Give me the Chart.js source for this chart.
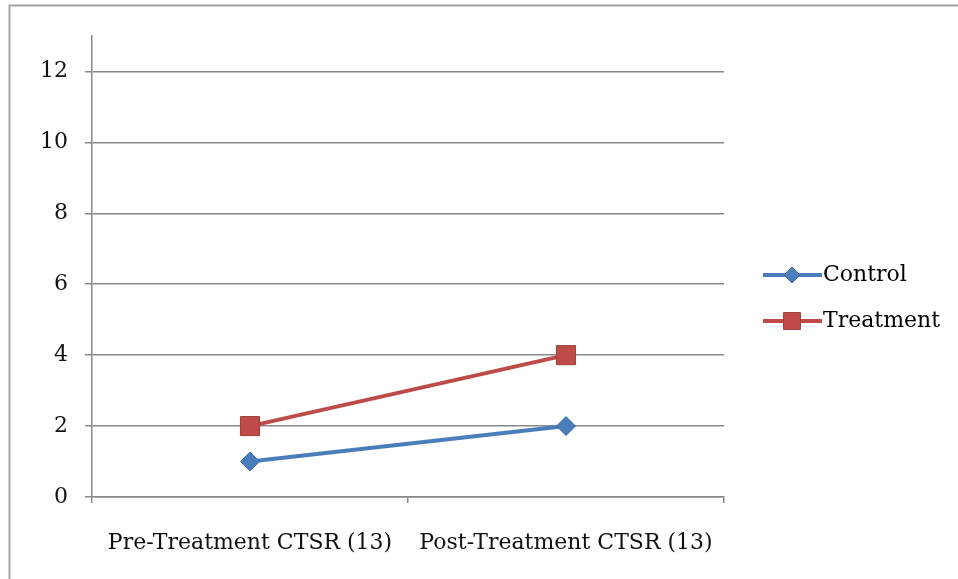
<!DOCTYPE html>
<html>
<head>
<meta charset="utf-8">
<script src="https://cdn.jsdelivr.net/npm/chart.js@4.4.1/dist/chart.umd.min.js"></script>
<style>
  html, body { margin: 0; padding: 0; background: #fff; }
  #wrap { position: relative; width: 958px; height: 579px; }
</style>
</head>
<body>
<div id="wrap"><canvas id="chart" width="958" height="579"></canvas></div>
<script>
const categories = ['Pre-Treatment CTSR (13)', 'Post-Treatment CTSR (13)'];
const controlValues = [1, 2];
const treatmentValues = [2, 4];
const yTicks = [0, 2, 4, 6, 8, 10, 12];

const FONT = "'DejaVu Serif', serif";

// outer frame of the original chart box
const framePlugin = {
    id: 'frame',
    beforeDraw(chart) {
        const ctx = chart.ctx;
        ctx.save();
        ctx.strokeStyle = '#a3a3a3';
        ctx.lineWidth = 2;
        ctx.beginPath();
        ctx.moveTo(9.5, chart.height + 5);
        ctx.lineTo(9.5, 5.5);
        ctx.lineTo(chart.width + 5, 5.5);
        ctx.stroke();
        ctx.restore();
    }
};

// legend with line + marker sample, like the spreadsheet one
const lineLegend = {
    id: 'lineLegend',
    afterDraw(chart) {
        const ctx = chart.ctx;
        const rows = [275, 321];
        ctx.save();
        chart.data.datasets.forEach((ds, i) => {
            const y = rows[i];
            ctx.strokeStyle = ds.borderColor;
            ctx.lineWidth = 4;
            ctx.beginPath();
            ctx.moveTo(763, y);
            ctx.lineTo(822, y);
            ctx.stroke();
            ctx.fillStyle = ds.pointBackgroundColor;
            ctx.strokeStyle = ds.pointBorderColor;
            ctx.lineWidth = 1;
            Chart.helpers.drawPoint(ctx, {
                pointStyle: ds.pointStyle,
                radius: ds.pointStyle === 'rect' ? 12 : 8,
                rotation: 0,
                borderWidth: 1
            }, 792, y);
            ctx.fillStyle = '#000';
            ctx.font = '22px ' + FONT;
            ctx.textBaseline = 'middle';
            ctx.textAlign = 'left';
            ctx.fillText(ds.label, 823, y);
        });
        ctx.restore();
    }
};

new Chart(document.getElementById('chart'), {
    type: 'line',
    data: {
        labels: categories,
        datasets: [
            {
                label: 'Control',
                data: controlValues,
                borderColor: '#4a7ebb',
                backgroundColor: '#4a7ebb',
                pointBackgroundColor: '#4a7ebb',
                pointBorderColor: '#3d6ba3',
                borderWidth: 4,
                pointStyle: 'rectRot',
                pointRadius: 9.5,
                pointBorderWidth: 1
            },
            {
                label: 'Treatment',
                data: treatmentValues,
                borderColor: '#be4b48',
                backgroundColor: '#be4b48',
                pointBackgroundColor: '#be4b48',
                pointBorderColor: '#a13f3c',
                borderWidth: 4,
                pointStyle: 'rect',
                pointRadius: 13.5,
                pointBorderWidth: 1
            }
        ]
    },
    options: {
        responsive: false,
        animation: false,
        layout: { padding: { top: 36, right: 234, left: 0, bottom: 0 } },
        plugins: {
            legend: { display: false },
            tooltip: { enabled: false },
            title: { display: false }
        },
        scales: {
            x: {
                offset: true,
                grid: {
                    offset: true,
                    drawOnChartArea: false,
                    drawTicks: true,
                    tickLength: 6,
                    color: '#888888',
                    lineWidth: 1.5
                },
                border: { color: '#888888', width: 1.5 },
                ticks: {
                    color: '#111',
                    font: { family: FONT, size: 22 },
                    padding: 27,
                    maxRotation: 0
                },
                afterFit(scale) { scale.height = 82; }
            },
            y: {
                min: 0,
                max: 13,
                afterBuildTicks(scale) {
                    scale.ticks = yTicks.map(v => ({ value: v }));
                },
                grid: {
                    color: '#888888',
                    lineWidth: 1.5,
                    tickLength: 7
                },
                border: { color: '#888888', width: 1.5 },
                ticks: {
                    color: '#111',
                    font: { family: FONT, size: 22 },
                    padding: 17
                },
                afterFit(scale) { scale.width = 92; }
            }
        }
    },
    plugins: [framePlugin, lineLegend]
});
</script>
</body>
</html>
